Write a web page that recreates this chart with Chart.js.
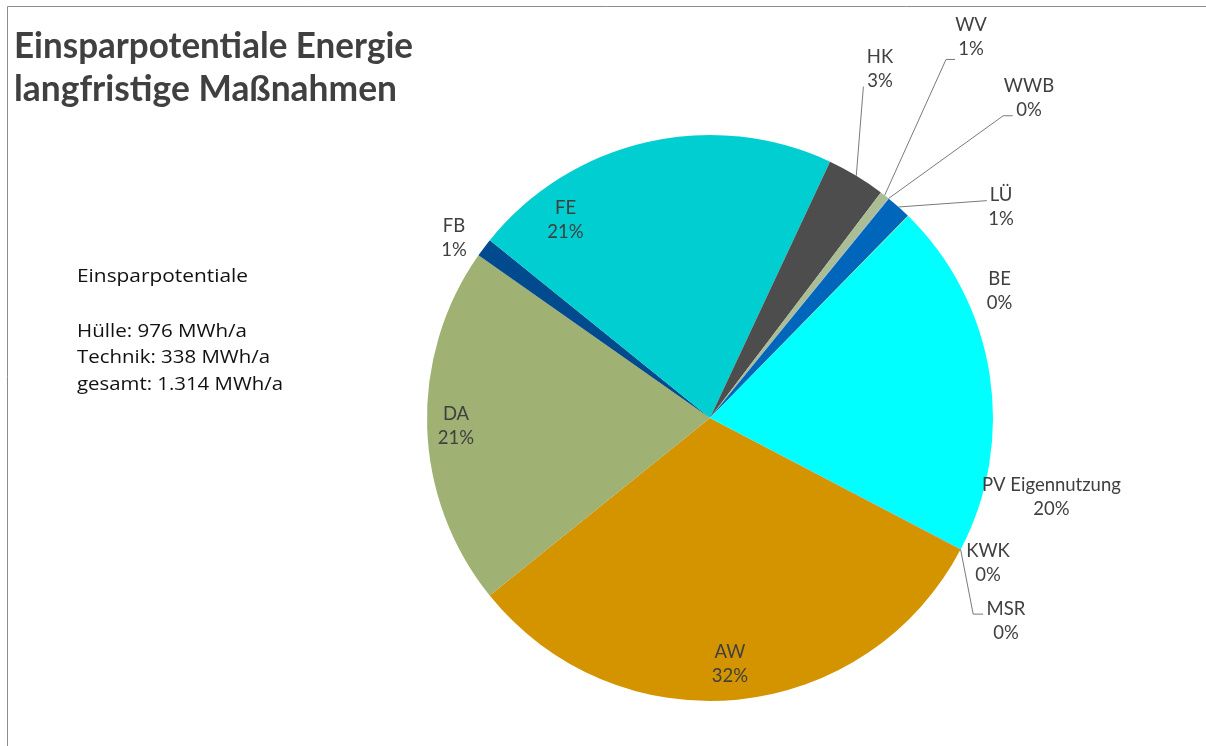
<!DOCTYPE html>
<html>
<head>
<meta charset="utf-8">
<script src="https://cdn.jsdelivr.net/npm/chart.js@4/dist/chart.umd.min.js"></script>
<style>
html,body{margin:0;padding:0;background:#ffffff;}
#wrap{width:1206px;height:746px;position:relative;overflow:hidden;}
canvas{display:block;}
</style>
</head>
<body>
<div id="wrap"><canvas id="c" width="1206" height="746"></canvas></div>
<script>
// ---- data ----
const categories = ['AW','DA','FB','FE','HK','WV','WWB','LÜ','BE','PV Eigennutzung','KWK','MSR'];
const savingsMWh = [414, 270, 14, 278, 44, 7, 0.4, 19, 0.3, 267, 0.2, 0.1];
const titleLines = ['Einsparpotentiale Energie', 'langfristige Maßnahmen'];
const summaryLines = ['Einsparpotentiale', '', 'Hülle: 976 MWh/a', 'Technik: 338 MWh/a', 'gesamt: 1.314 MWh/a'];

// ---- styles / layout ----
const sliceColors = ['#D39400','#9FB173','#004A8D','#00CED1','#4D4D4D','#ABBD95','#8EA9DB','#0066BB','#F2C500','#00FFFF','#7F7F7F','#C00000'];
// label centres and leader geometry, in units of the pie radius, relative to the pie centre
const labelLayout = {
  'AW':  {pos:[0.0707, 0.8675]},
  'DA':  {pos:[-0.8975, 0.0247]},
  'FB':  {pos:[-0.9046, -0.6378]},
  'FE':  {pos:[-0.5106, -0.7032]},
  'HK':  {pos:[0.6007, -1.2350], leader:[[0.542,-1.171]]},
  'WV':  {pos:[0.9223, -1.3498], leader:[[0.834,-1.267],[0.866,-1.267]]},
  'WWB': {pos:[1.1272, -1.1343], leader:[[1.036,-1.068],[1.070,-1.068]]},
  'LÜ':  {pos:[1.0283, -0.7491], leader:[[0.978,-0.768]]},
  'BE':  {pos:[1.0230, -0.4523]},
  'PV Eigennutzung': {pos:[1.2067, 0.2756]},
  'KWK': {pos:[0.9823, 0.5106]},
  'MSR': {pos:[1.0459, 0.7155], leader:[[0.930,0.693],[0.965,0.693]]}
};
const LABEL_FONT = '18.5px Lato';
const LABEL_COLOR = '#404040';
const LINE_COLOR = '#7a7a7a';
const summaryWidths = [171, 0, 170, 193, 206];
const summaryBaselines = [281.5, 309, 336.7, 363.3, 390];

const total = savingsMWh.reduce((a,b)=>a+b,0);

function fitText(ctx, text, x, y, targetW){
  const w = ctx.measureText(text).width;
  ctx.save();
  ctx.translate(x, y);
  ctx.scale(targetW / w, 1);
  ctx.fillText(text, 0, 0);
  ctx.restore();
}

const decorPlugin = {
  id:'decor',
  beforeDraw(chart){
    const ctx = chart.ctx;
    ctx.save();
    ctx.fillStyle = '#ffffff';
    ctx.fillRect(0,0,chart.width,chart.height);
    // frame
    ctx.strokeStyle = '#8c8c8c';
    ctx.lineWidth = 1;
    ctx.beginPath();
    ctx.moveTo(7.5, chart.height);
    ctx.lineTo(7.5, 6.5);
    ctx.lineTo(chart.width, 6.5);
    ctx.stroke();
    // title
    ctx.fillStyle = '#404040';
    ctx.textAlign = 'left';
    ctx.textBaseline = 'alphabetic';
    ctx.font = 'bold 36px Lato';
    const tW = [399, 383];
    const tY = [58, 101];
    titleLines.forEach((t,i)=> fitText(ctx, t, 14, tY[i], tW[i]));
    // summary text
    ctx.fillStyle = '#111111';
    ctx.font = '18px "Open Sans"';
    summaryLines.forEach((t,i)=>{ if(t) fitText(ctx, t, 77, summaryBaselines[i], summaryWidths[i]); });
    ctx.restore();
  },
  afterDatasetsDraw(chart){
    const ctx = chart.ctx;
    const meta = chart.getDatasetMeta(0);
    ctx.save();
    meta.data.forEach((arc, i)=>{
      const p = arc.getProps(['x','y','startAngle','endAngle','outerRadius'], true);
      const R = p.outerRadius, cx = p.x, cy = p.y;
      const lay = labelLayout[categories[i]];
      if(!lay) return;
      const lx = cx + lay.pos[0]*R, ly = cy + lay.pos[1]*R;
      if(lay.leader){
        const mid = (p.startAngle + p.endAngle)/2;
        ctx.strokeStyle = LINE_COLOR;
        ctx.lineWidth = 1;
        ctx.beginPath();
        ctx.moveTo(cx + Math.cos(mid)*R, cy + Math.sin(mid)*R);
        lay.leader.forEach(pt=>ctx.lineTo(cx + pt[0]*R, cy + pt[1]*R));
        ctx.stroke();
      }
      const pct = Math.round(savingsMWh[i]/total*100) + '%';
      ctx.fillStyle = LABEL_COLOR;
      ctx.font = LABEL_FONT;
      ctx.textAlign = 'center';
      ctx.textBaseline = 'alphabetic';
      ctx.fillText(categories[i], lx, ly - 12 + 6.7);
      ctx.fillText(pct, lx, ly + 12 + 6.7);
    });
    ctx.restore();
  }
};

new Chart(document.getElementById('c'), {
  type:'pie',
  data:{
    labels: categories,
    datasets:[{
      data: savingsMWh,
      backgroundColor: sliceColors,
      borderWidth: 0,
      hoverOffset: 0
    }]
  },
  options:{
    responsive:false,
    animation:false,
    devicePixelRatio:1,
    rotation:117.7,
    layout:{padding:{left:427, right:213, top:135, bottom:45}},
    plugins:{legend:{display:false}, tooltip:{enabled:false}, title:{display:false}},
    events:[]
  },
  plugins:[decorPlugin]
});
</script>
</body>
</html>
